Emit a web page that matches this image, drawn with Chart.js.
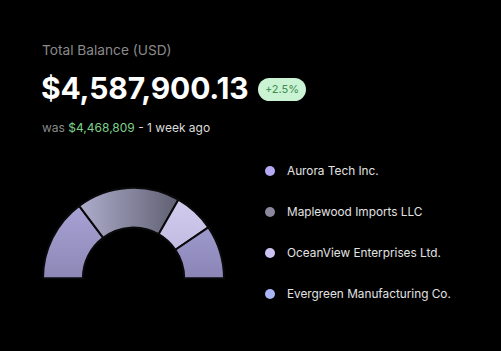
<!DOCTYPE html>
<html>
<head>
<meta charset="utf-8">
<script src="https://cdn.jsdelivr.net/npm/chart.js"></script>
<style>
    html, body { margin: 0; padding: 0; background: #000; }
    body { width: 501px; height: 351px; position: relative; overflow: hidden; font-family: Inter, "Noto Sans", sans-serif; }
    #title { position: absolute; left: 42px; top: 42px; font-size: 13.7px; color: #8a8a8a; }
    #total { position: absolute; left: 41px; top: 70px; font-size: 30px; font-weight: 700; color: #fff; letter-spacing: -0.15px; }
    #badge { position: absolute; left: 258px; top: 78px; width: 48px; height: 23px; line-height: 23px; border-radius: 12px; background: #c9f3d3; color: #3c8c4e; font-size: 11px; text-align: center; }
    #was { position: absolute; left: 42px; top: 120px; font-size: 12px; color: #dcdcdc; }
    #was .grey { color: #8a8a8a; }
    #was .green { color: #7fd08c; }
    #chartBox { position: absolute; left: 42px; top: 186px; width: 183px; height: 94px; }
    #legend { position: absolute; left: 264px; top: 164px; }
    .item { height: 41px; display: flex; align-items: flex-start; font-size: 11.8px; color: #e2e2e2; }
    .dot { width: 10px; height: 10px; border-radius: 50%; margin: 2px 12px 0 1px; }
</style>
</head>
<body>
<div id="title">Total Balance (USD)</div>
<div id="total">$4,587,900.13</div>
<div id="badge">+2.5%</div>
<div id="was"><span class="grey">was</span> <span class="green">$4,468,809</span> - 1 week ago</div>
<div id="chartBox"><canvas id="myChart"></canvas></div>
<div id="legend"></div>
<script>
const labels = ['Aurora Tech Inc.', 'Maplewood Imports LLC', 'OceanView Enterprises Ltd.', 'Evergreen Manufacturing Co.']
const shares = [29.5, 37, 14.5, 19]
const dotColors = ['#b4a9f2', '#8b879c', '#cbc4f2', '#a9b5f7']
const gradStops = [
    ['#aca6da', '#8c87b4', 'v'],
    ['#acabca', '#5a5a6c', 'h'],
    ['#d2cdee', '#b9b2dc', 'v'],
    ['#aba7dc', '#8984b4', 'v']
]

let legend = document.getElementById('legend')
labels.forEach((name, i) => {
    let row = document.createElement('div')
    row.className = 'item'
    row.innerHTML = `<span class="dot" style="background:${dotColors[i]}"></span><span>${name}</span>`
    legend.appendChild(row)
})

function segColor(context) {
    let chart = context.chart
    let area = chart.chartArea
    if (!area) return gradStops[context.dataIndex][0]
    let [a, b, dir] = gradStops[context.dataIndex]
    let g
    if (dir == 'h') {
        g = chart.ctx.createLinearGradient(area.left + 40, 0, area.right - 40, 0)
    } else {
        g = chart.ctx.createLinearGradient(0, area.top + 10, 0, area.bottom)
    }
    g.addColorStop(0, a)
    g.addColorStop(1, b)
    return g
}

const ctx = document.getElementById('myChart')
new Chart(ctx, {
    type: 'doughnut',
    data: {
        labels: labels,
        datasets: [{
            data: shares,
            backgroundColor: segColor,
            borderColor: '#0a0a0c',
            borderWidth: 2
        }]
    },
    options: {
        responsive: true,
        maintainAspectRatio: false,
        animation: false,
        rotation: -90,
        circumference: 180,
        cutout: '56%',
        layout: { padding: 0 },
        plugins: {
            legend: { display: false },
            tooltip: { enabled: false }
        }
    }
})
</script>
</body>
</html>
